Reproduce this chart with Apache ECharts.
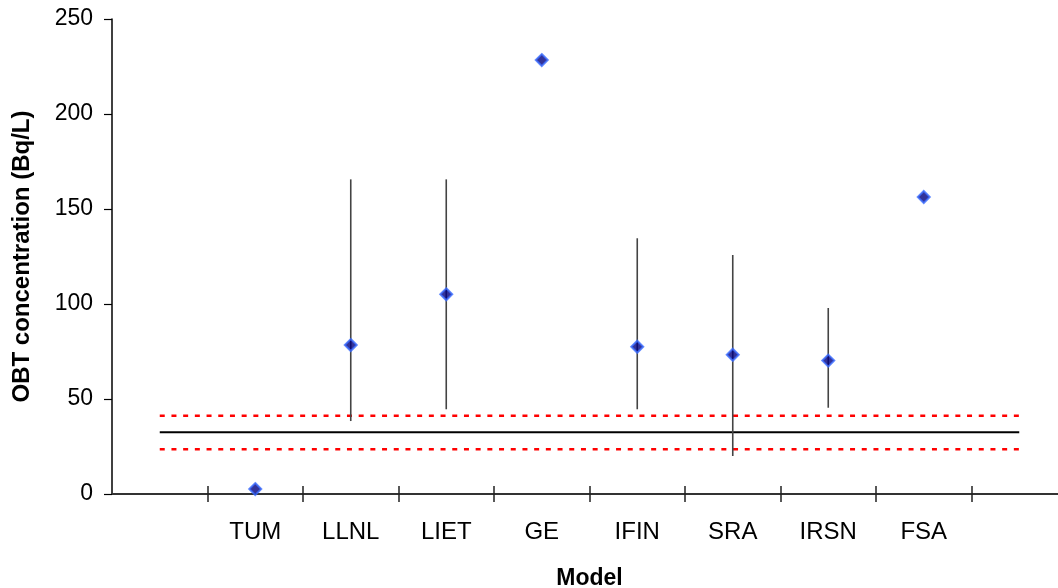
<!DOCTYPE html>
<html><head><meta charset="utf-8">
<script src="https://cdn.jsdelivr.net/npm/echarts@6/dist/echarts.min.js"></script>
<style>html,body{margin:0;padding:0;background:#fff}#c{width:1058px;height:588px}</style>
</head><body><div id="c"></div>
<script>
const models = ['TUM','LLNL','LIET','GE','IFIN','SRA','IRSN','FSA'];
const modelX = [1.5,2.5,3.5,4.5,5.5,6.5,7.5,8.5];
const values = [2.6,78.4,105.1,228.4,77.5,73.3,70.2,156.3];
const errLow  = [null,38.4,44.6,null,44.6,20.0,45.4,null];
const errHigh = [null,165.6,165.6,null,134.6,125.8,97.9,null];
const refMean = 32.5;
const refLow = 23.5;
const refHigh = 41.2;
const refSpan = [0.5, 9.5];
const yTicks = [0,50,100,150,200,250];
const xTickPos = [1,2,3,4,5,6,7,8,9];

const chart = echarts.init(document.getElementById('c'));
const font = 'Liberation Sans, Arial, sans-serif';
const pts = modelX.map((x,i)=>[x, values[i]]);
const bars = modelX.map((x,i)=>[x, errLow[i], errHigh[i]]).filter(d=>d[1]!=null);
const hline = v => refSpan.map(x=>[x, v]);
const xBase = {
  type:'value', min:0, max:10, position:'bottom',
  splitLine:{show:false}
};
chart.setOption({
  animation:false,
  grid:{left:112, top:19, height:475, width:955, containLabel:false, outerBoundsMode:'none'},
  xAxis:[
    Object.assign({}, xBase, {
      name:'Model', nameLocation:'middle', nameGap:73,
      nameTextStyle:{fontFamily:font, fontWeight:'bold', fontSize:23, color:'#000'},
      axisLine:{show:true, onZero:false, lineStyle:{color:'#333', width:2}},
      axisTick:{show:true, customValues:xTickPos, length:8, inside:false, lineStyle:{color:'#222', width:1.5}},
      axisLabel:{show:true, customValues:modelX, margin:26, fontFamily:font, fontSize:24, color:'#000',
        formatter:v=>{const i=modelX.indexOf(v); return i>=0?models[i]:'';}}
    }),
    Object.assign({}, xBase, {
      axisLine:{show:false},
      axisTick:{show:true, customValues:xTickPos, length:8, inside:true, lineStyle:{color:'#222', width:1.5}},
      axisLabel:{show:false}
    })
  ],
  yAxis:{
    type:'value', min:0, max:250, interval:50,
    name:'OBT concentration (Bq/L)', nameLocation:'middle', nameGap:78,
    nameTextStyle:{fontFamily:font, fontWeight:'bold', fontSize:24, color:'#000'},
    axisLine:{show:true, lineStyle:{color:'#000', width:1.5}},
    axisTick:{show:true, length:8, lineStyle:{color:'#000', width:1.2}},
    axisLabel:{fontFamily:font, fontSize:23, color:'#000', margin:19},
    splitLine:{show:false}
  },
  series:[
    {type:'line', data:hline(refMean), symbol:'none', lineStyle:{color:'#000', width:2}, z:2},
    {type:'line', data:hline(refHigh), symbol:'none', lineStyle:{color:'#ff0000', width:2.5, type:[5,6.7]}, z:2},
    {type:'line', data:hline(refLow), symbol:'none', lineStyle:{color:'#ff0000', width:2.5, type:[5,6.7]}, z:2},
    {type:'custom', data:bars, encode:{x:0, y:[1,2]}, z:3,
      renderItem:(params, api)=>{
        const a = api.coord([api.value(0), api.value(1)]);
        const b = api.coord([api.value(0), api.value(2)]);
        return {type:'line', shape:{x1:a[0], y1:a[1], x2:b[0], y2:b[1]}, style:{stroke:'#444', lineWidth:1.6}};
      }},
    {type:'scatter', data:pts, symbol:'diamond', symbolSize:12, z:5,
      itemStyle:{color:'#000080', borderColor:'#3a6cff', borderWidth:2}}
  ]
});
</script></body></html>
